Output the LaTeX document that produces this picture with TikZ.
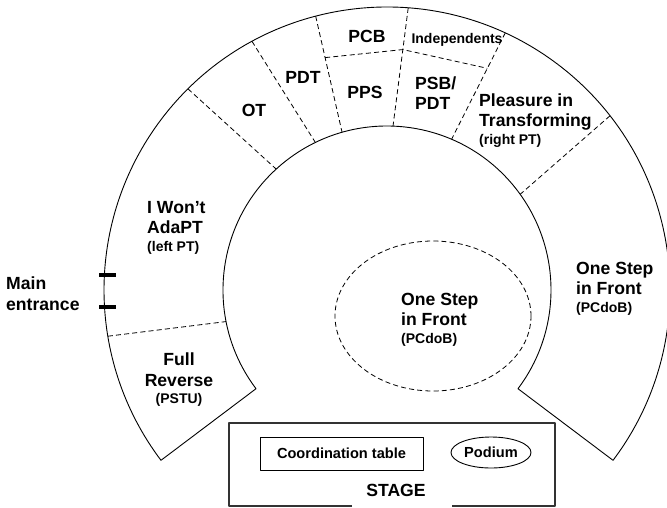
\documentclass[tikz,border=0pt]{standalone}
\usepackage{fontspec}
\setmainfont{Liberation Sans}
\usetikzlibrary{shapes.geometric,calc}
\newcommand\zonefont{\fontsize{17.6}{20}\selectfont\bfseries}
\newcommand\subfont{\fontsize{14}{16}\selectfont\bfseries}
\newcommand\tablefont{\fontsize{14.6}{17}\selectfont\bfseries}

\begin{document}
\begin{tikzpicture}[x=1pt,y=1pt,line join=round,
   divider/.style={dash pattern=on 5pt off 3.2pt,line width=0.8pt},
   zone/.style={font=\zonefont,inner sep=0pt,align=left,anchor=north west},
   zonec/.style={font=\zonefont,inner sep=0pt,align=center,anchor=north}]
   \useasboundingbox (0,0) rectangle (667,-507);
   \def\ROUT{283}
   \def\RIN{164}
   % Seating horseshoe round the middle of the hall
   \begin{scope}[shift={(387,-290)}]
      \draw [line width=0.9pt] (-37:\ROUT) arc [start angle=-37,end angle=217,radius=\ROUT]
         -- (217:\RIN) arc [start angle=217,end angle=-37,radius=\RIN] -- cycle;
      % Ends of the dividers (outer, inner)
      \coordinate (a1) at (189.4:\ROUT); \coordinate (a2) at (191.1:\RIN);
      \coordinate (b1) at (134.7:\ROUT); \coordinate (b2) at (132.5:\RIN);
      \coordinate (c1) at (118.5:\ROUT); \coordinate (c2) at (115.9:\RIN);
      \coordinate (d1) at (104.6:\ROUT); \coordinate (d2) at (105.9:\RIN);
      \coordinate (e1) at (85.7:\ROUT);  \coordinate (e2) at (87.9:\RIN);
      \coordinate (g1) at (65.3:\ROUT);  \coordinate (g2) at (66.8:\RIN);
      \coordinate (h1) at (38:\ROUT);    \coordinate (h2) at (35.7:\RIN);
   \end{scope}
   % Dividers between the groups
   \foreach \D in {a,b,c,d,e,g,h}
      \draw [divider] (\D1) -- (\D2);
   \draw [divider] ($(d1)!0.357!(d2)$) -- ($(e1)!0.353!(e2)$) -- ($(g1)!0.333!(g2)$);
   % Main entrance
   \draw [line width=4pt] (99,-274.5) -- (116,-274.5);
   \draw [line width=4pt] (99,-307) -- (116,-307);
   % Middle of the hall
   \draw [divider] (433,-316) ellipse [x radius=98,y radius=75];
   % Stage, open at the bottom
   \draw [line width=1.1pt,black!80] (352,-506) -| (229,-423) -| (555,-506) -- (452,-506);
   \node [draw,line width=1pt,font=\tablefont,minimum width=163pt,minimum height=33pt,inner sep=0pt]
      (table) at (341.5,-453.5) {Coordination table};
   \node [draw,ellipse,line width=0.9pt,font=\tablefont,minimum width=80pt,minimum height=31pt,inner sep=0pt]
      (podium) at (491,-452.5) {Podium};
   \node [zonec] (stage) at (396,-484.5) {STAGE};
   % Names of the groups
   \node [zone] (entrance) at (6,-277) {Main\\[1pt]entrance};
   \node [zone] (iwont) at (147,-201) {I Won’t\\AdaPT\\[-2pt]{\subfont (left PT)}};
   \node [zonec] (reverse) at (179,-353) {Full\\[1pt]Reverse\\[-3pt]{\subfont (PSTU)}};
   \node [zonec] (ot) at (254,-104) {OT};
   \node [zonec] (pdt) at (303,-71) {PDT};
   \node [zonec] (pcb) at (367,-30) {PCB};
   \node [zonec] (pps) at (365,-86) {PPS};
   \node [zonec,font=\subfont] (indep) at (457,-33.5) {Independents};
   \node [zone] (psb) at (415,-77) {PSB/\\PDT};
   \node [zone] (pleasure) at (479,-94) {Pleasure in\\Transforming\\[-2pt]{\subfont (right PT)}};
   \node [zone] (steplow) at (576,-262) {One Step\\in Front\\[-2pt]{\subfont (PCdoB)}};
   \node [zone] (stepmid) at (401,-293) {One Step\\in Front\\[-2pt]{\subfont (PCdoB)}};
\end{tikzpicture}
\end{document}
